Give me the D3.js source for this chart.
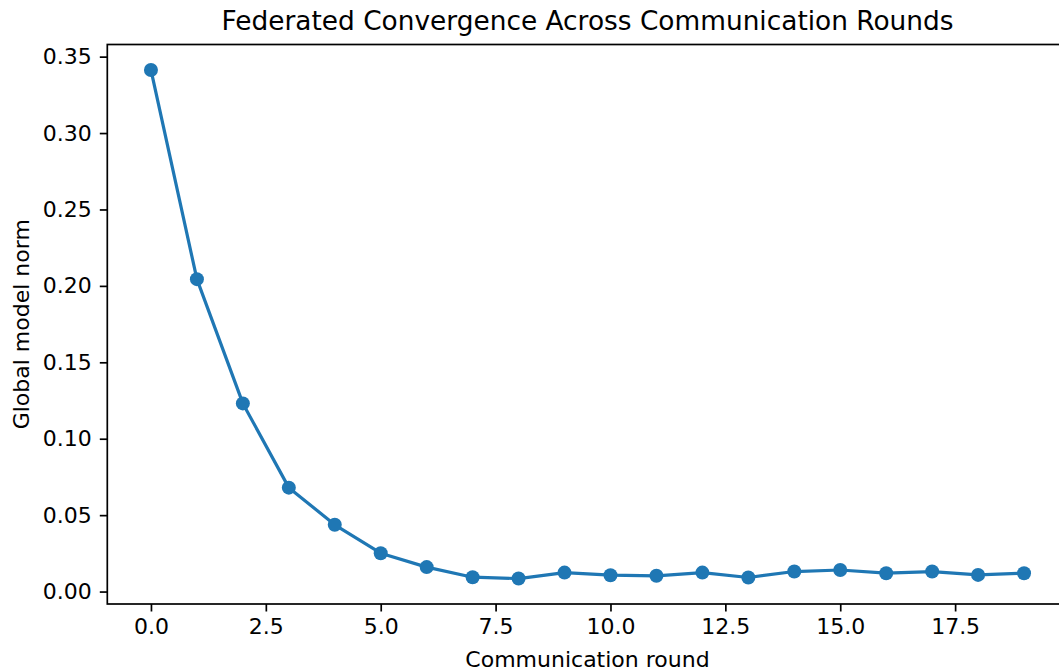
<!DOCTYPE html>
<html>
<head>
<meta charset="utf-8">
<script src="https://cdn.jsdelivr.net/npm/d3@7/dist/d3.min.js"></script>
<style>
  html, body { margin: 0; padding: 0; background: #fff; }
  svg { display: block; }
  text { font-family: "DejaVu Sans", sans-serif; fill: #000; }
</style>
</head>
<body>
<div id="chart"></div>
<script>
// ---- data ----
const rounds = [0,1,2,3,4,5,6,7,8,9,10,11,12,13,14,15,16,17,18,19];
const normValues = [0.3413, 0.2044, 0.1231, 0.0680, 0.0437, 0.0251, 0.0160, 0.0094, 0.0085, 0.0124,
                    0.0107, 0.0103, 0.0124, 0.0092, 0.0131, 0.0141, 0.0120, 0.0131, 0.0109, 0.0120];
const xTicks = [0.0, 2.5, 5.0, 7.5, 10.0, 12.5, 15.0, 17.5];
const yTicks = [0.00, 0.05, 0.10, 0.15, 0.20, 0.25, 0.30, 0.35];
const titleText = "Federated Convergence Across Communication Rounds";
const xLabelText = "Communication round";
const yLabelText = "Global model norm";

const W = 1059, H = 671;
const mLeft = 107.3, mRight = 1067.7, mTop = 44.5, mBottom = 604;

const svg = d3.select("#chart").append("svg").attr("width", W).attr("height", H);

const xMin = d3.min(rounds), xMax = d3.max(rounds);
const xPad = (xMax - xMin) * 0.05;
const yMin = d3.min(normValues), yMax = d3.max(normValues);
const yPad = (yMax - yMin) * 0.05;

const x = d3.scaleLinear().domain([xMin - xPad, xMax + xPad]).range([mLeft, mRight]);
const y = d3.scaleLinear().domain([yMin - yPad, yMax + yPad]).range([mBottom, mTop]);

// line
const line = d3.line().x((d, i) => x(rounds[i])).y(d => y(d));
svg.append("path")
  .datum(normValues)
  .attr("d", line)
  .attr("fill", "none")
  .attr("stroke", "#1f77b4")
  .attr("stroke-width", 3.2)
  .attr("stroke-linejoin", "round")
  .attr("stroke-linecap", "square");

svg.append("g").selectAll("circle")
  .data(normValues)
  .enter().append("circle")
  .attr("cx", (d, i) => x(rounds[i]))
  .attr("cy", d => y(d))
  .attr("r", 7)
  .attr("fill", "#1f77b4");

// axes
const xAxis = d3.axisBottom(x).tickValues(xTicks).tickFormat(d3.format(".1f")).tickSize(7.5).tickPadding(7);
const yAxis = d3.axisLeft(y).tickValues(yTicks).tickFormat(d3.format(".2f")).tickSize(7.5).tickPadding(8);

const gx = svg.append("g").attr("transform", `translate(0,${mBottom})`).call(xAxis);
const gy = svg.append("g").attr("transform", `translate(${mLeft},0)`).call(yAxis);
[gx, gy].forEach(g => {
  g.select(".domain").remove();
  g.selectAll(".tick line").attr("stroke", "#000").attr("stroke-width", 1.7);
  g.selectAll(".tick text").attr("font-size", "22px").attr("font-family", "DejaVu Sans, sans-serif").attr("fill", "#000");
});

// spines
svg.append("rect")
  .attr("x", mLeft).attr("y", mTop)
  .attr("width", mRight - mLeft).attr("height", mBottom - mTop)
  .attr("fill", "none").attr("stroke", "#000").attr("stroke-width", 1.7);

// title & labels
svg.append("text")
  .attr("x", (mLeft + mRight) / 2).attr("y", 30)
  .attr("text-anchor", "middle").attr("font-size", "26.4px")
  .text(titleText);

svg.append("text")
  .attr("x", (mLeft + mRight) / 2).attr("y", 667)
  .attr("text-anchor", "middle").attr("font-size", "22px")
  .text(xLabelText);

svg.append("text")
  .attr("transform", `translate(29,${(mTop + mBottom) / 2}) rotate(-90)`)
  .attr("text-anchor", "middle").attr("font-size", "22px")
  .text(yLabelText);
</script>
</body>
</html>
